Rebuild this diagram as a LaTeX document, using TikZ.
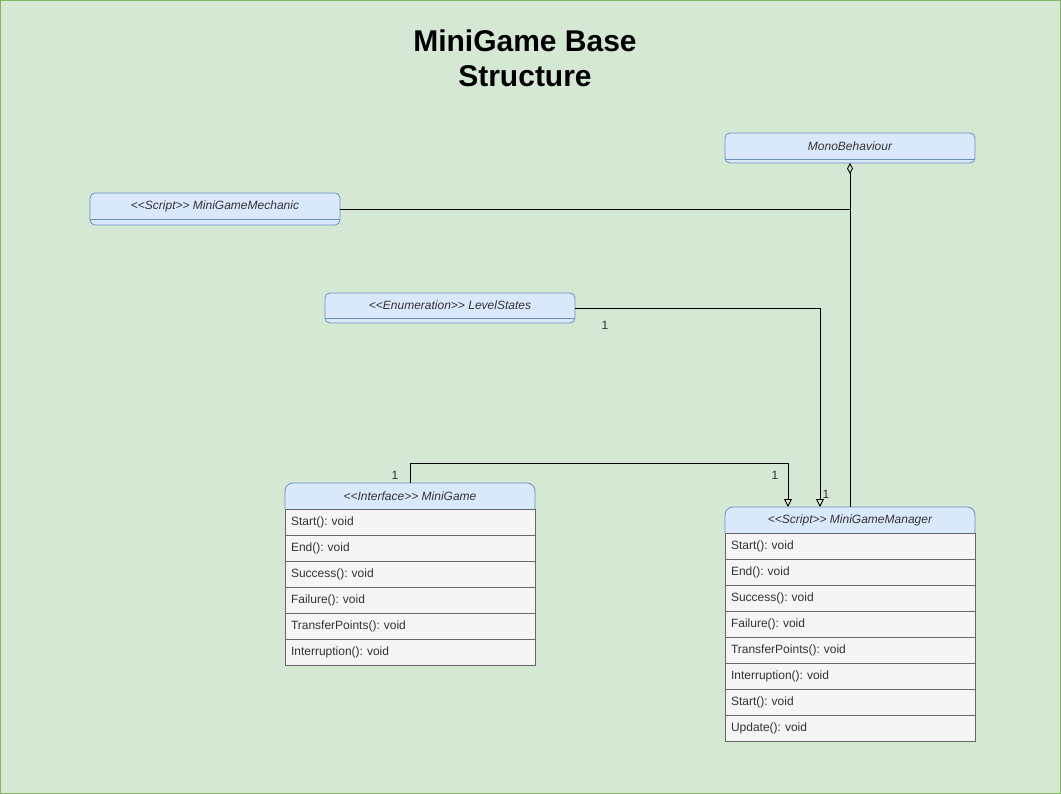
\documentclass[tikz,border=0pt]{standalone}
\usepackage{fontspec}
\setmainfont{Liberation Sans}
\usetikzlibrary{arrows.meta,backgrounds}
\pgfdeclarelayer{back}
\pgfsetlayers{back,background,main}
\frenchspacing
\newcommand\stOpen{<\kern0pt<}
\newcommand\stClose{>\kern0pt>}
\definecolor{bg}{HTML}{D5E8D4}
\definecolor{bgline}{HTML}{82B366}
\definecolor{hfill}{HTML}{DAE8FC}
\definecolor{hline}{HTML}{6C8EBF}
\definecolor{rfill}{HTML}{F5F5F5}
\definecolor{rline}{HTML}{666666}
\definecolor{txt}{HTML}{333333}
\begin{document}
\begin{tikzpicture}[x=1pt,y=-1pt,
  hdr/.style={minimum width=250pt, minimum height=26pt, inner sep=0pt, outer sep=0pt, anchor=north west,
    font=\fontsize{12}{14}\selectfont\itshape, text=txt},
  boxshape/.style={minimum width=250pt, inner sep=0pt, outer sep=0pt, anchor=north west, fill=hfill, draw=hline, rounded corners=5pt, line width=0.8pt},
  hshape/.style={fill=hfill, draw=hline, rounded corners=8pt, line width=0.8pt},
  row/.style={minimum height=26pt, text width=238pt, inner xsep=6pt, inner ysep=0pt, outer sep=0pt, align=left,
    anchor=north west, fill=rfill, draw=rline, line width=0.8pt, text=txt, font=\fontsize{12}{14}\selectfont},
  conn/.style={draw=black, line width=0.9pt},
  opentri/.style={-{Triangle[open,length=8pt,width=8pt]}},
  lbl/.style={font=\fontsize{12}{14}\selectfont, text=txt, inner sep=0pt}]
\useasboundingbox (0,0) rectangle (1061,794);
\begin{pgfonlayer}{back}
\path[fill=bg, draw=bgline, line width=1pt] (0.5,0.5) rectangle (1060.5,793.5);
\end{pgfonlayer}

% title
\node[align=center, font=\fontsize{30}{35}\selectfont\bfseries] (title) at (525,58) {MiniGame Base\\Structure};

% MonoBehaviour
\node[boxshape, minimum height=30pt] (mono) at (725,133) {};
\node[hdr] (monot) at (725,133) {MonoBehaviour};
\draw[hline, line width=0.8pt] (monot.south west) -- (monot.south east);

% MiniGameMechanic
\node[boxshape, minimum height=32pt] (mech) at (90,193) {};
\node[hdr] (mecht) at (90,193) {\stOpen Script\stClose{} MiniGameMechanic};
\draw[hline, line width=0.8pt] (mecht.south west) -- (mecht.south east);

% LevelStates
\node[boxshape, minimum height=30pt] (ls) at (325,293) {};
\node[hdr, minimum height=25pt] (lst) at (325,293) {\stOpen Enumeration\stClose{} LevelStates};
\draw[hline, line width=0.8pt] (lst.south west) -- (lst.south east);

% MiniGame interface
\node[hdr] (mgh) at (285,483) {\stOpen Interface\stClose{} MiniGame};
\begin{scope}[on background layer]
\path[hshape] (mgh.south west) -- (mgh.north west) -- (mgh.north east) -- (mgh.south east);
\end{scope}
\node[row] (mg1) at (mgh.south west) {Start(): void};
\node[row] (mg2) at (mg1.south west) {End(): void};
\node[row] (mg3) at (mg2.south west) {Success(): void};
\node[row] (mg4) at (mg3.south west) {Failure(): void};
\node[row] (mg5) at (mg4.south west) {TransferPoints(): void};
\node[row] (mg6) at (mg5.south west) {Interruption(): void};

% MiniGameManager
\node[hdr] (mgrh) at (725,507) {\stOpen Script\stClose{} MiniGameManager};
\begin{scope}[on background layer]
\path[hshape] (mgrh.south west) -- (mgrh.north west) -- (mgrh.north east) -- (mgrh.south east);
\end{scope}
\node[row] (mr1) at (mgrh.south west) {Start(): void};
\node[row] (mr2) at (mr1.south west) {End(): void};
\node[row] (mr3) at (mr2.south west) {Success(): void};
\node[row] (mr4) at (mr3.south west) {Failure(): void};
\node[row] (mr5) at (mr4.south west) {TransferPoints(): void};
\node[row] (mr6) at (mr5.south west) {Interruption(): void};
\node[row] (mr7) at (mr6.south west) {Start(): void};
\node[row] (mr8) at (mr7.south west) {Update(): void};

% connectors
\draw[conn, {Diamond[open,length=11pt,width=6pt]}-] (mono.south) -- (mgrh.north);
\draw[conn] (mech.east) -- (mech.east -| mono.south);
\draw[conn, opentri] (ls.east) -| ([xshift=-30pt]mgrh.north);
\draw[conn, opentri] (mgh.north) -- ++(0,-20) -| ([xshift=-62pt]mgrh.north);

% multiplicities
\node[lbl] (m1) at (605,325) {1};
\node[lbl] (m2) at (826,494) {1};
\node[lbl] (m3) at (395,475) {1};
\node[lbl] (m4) at (775,475) {1};
\end{tikzpicture}
\end{document}
